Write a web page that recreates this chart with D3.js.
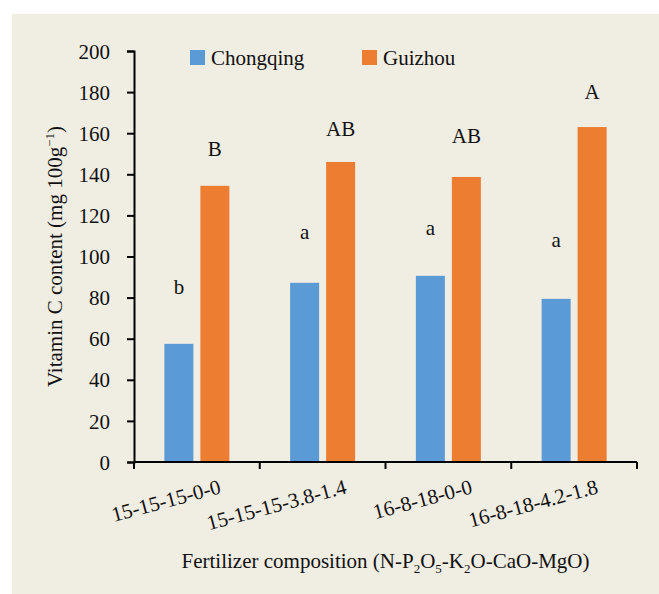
<!DOCTYPE html>
<html>
<head>
<meta charset="utf-8">
<script src="https://cdn.jsdelivr.net/npm/d3@7"></script>
<style>
  body { margin: 0; background: #fff; }
</style>
</head>
<body>
<div id="chart"></div>
<script>
// data
var categories = ["15-15-15-0-0", "15-15-15-3.8-1.4", "16-8-18-0-0", "16-8-18-4.2-1.8"];
var seriesNames = ["Chongqing", "Guizhou"];
var chongqing = [57.5, 87.2, 90.6, 79.4];
var guizhou = [134.4, 146.0, 138.7, 163.0];
// significance letters and the height (in mg) where they sit
var chongqingLetters = ["b", "a", "a", "a"];
var chongqingLetterAt = [81.8, 108.5, 110.4, 104.6];
var guizhouLetters = ["B", "AB", "AB", "A"];
var guizhouLetterAt = [148.9, 158.7, 155.3, 176.7];
var yTicks = [0, 20, 40, 60, 80, 100, 120, 140, 160, 180, 200];

var colors = ["#5B9BD5", "#ED7D31"];
var serif = "Liberation Serif";
var fs = 21;

var W = 659, H = 594;
var margin = { top: 51, right: 22, bottom: 132, left: 134 };
var width = W - margin.left - margin.right,
  height = H - margin.top - margin.bottom;

var svgRoot = d3.select("#chart").append("svg")
  .attr("width", W)
  .attr("height", H)
  .attr("font-family", serif);

// panel background
svgRoot.append("rect")
  .attr("x", 12).attr("y", 14)
  .attr("width", W - 12).attr("height", H - 14)
  .attr("fill", "#F0EDE3");

var svg = svgRoot.append("g")
  .attr("transform", "translate(" + margin.left + "," + margin.top + ")");

// scales
var x = d3.scaleBand().domain(categories).range([0, width]).paddingInner(0).paddingOuter(0);
var y = d3.scaleLinear().domain([0, 200]).range([height, 0]);
var barW = 29, gap = 7;
var xs = d3.scaleBand().domain(seriesNames)
  .range([0, barW * 2 + gap]).paddingInner(gap / (barW + gap));

var rows = categories.map(function (c, i) {
  return {
    cat: c,
    vals: [
      { s: seriesNames[0], v: chongqing[i], lab: chongqingLetters[i], at: chongqingLetterAt[i] },
      { s: seriesNames[1], v: guizhou[i], lab: guizhouLetters[i], at: guizhouLetterAt[i] }
    ]
  };
});

// bars
var groups = svg.selectAll(".grp")
  .data(rows)
  .enter().append("g")
  .attr("class", "grp")
  .attr("transform", function (d) {
    return "translate(" + (x(d.cat) + x.bandwidth() / 2 - (barW * 2 + gap) / 2) + ",0)";
  });

groups.selectAll("rect")
  .data(function (d) { return d.vals; })
  .enter().append("rect")
  .attr("x", function (d) { return xs(d.s); })
  .attr("width", xs.bandwidth())
  .attr("y", function (d) { return y(d.v); })
  .attr("height", function (d) { return height - y(d.v); })
  .attr("fill", function (d, i) { return colors[i]; });

groups.selectAll(".lab")
  .data(function (d) { return d.vals; })
  .enter().append("text")
  .attr("class", "lab")
  .attr("x", function (d) { return xs(d.s) + xs.bandwidth() / 2; })
  .attr("y", function (d) { return y(d.at); })
  .attr("text-anchor", "middle")
  .attr("font-family", serif)
  .attr("font-size", fs)
  .attr("fill", "#111")
  .text(function (d) { return d.lab; });

// y axis
var yAxis = svg.append("g")
  .call(d3.axisLeft(y).tickValues(yTicks).tickSizeInner(7).tickSizeOuter(7).tickPadding(17));
yAxis.attr("font-family", serif).attr("font-size", fs);
yAxis.selectAll("text").attr("font-family", serif).attr("font-size", fs).attr("fill", "#111").attr("dy", "0.34em");
yAxis.selectAll("line, path").attr("stroke", "#000").attr("stroke-width", 2);

// x axis: ticks on category boundaries
var xAxis = svg.append("g")
  .attr("transform", "translate(0," + height + ")");
xAxis.append("line")
  .attr("x1", 0).attr("x2", width)
  .attr("stroke", "#000").attr("stroke-width", 2);
var bounds = categories.map(function (c) { return x(c); }).concat([width]);
xAxis.selectAll(".bt")
  .data(bounds)
  .enter().append("line")
  .attr("x1", function (d) { return d; })
  .attr("x2", function (d) { return d; })
  .attr("y1", 0).attr("y2", 7)
  .attr("stroke", "#000").attr("stroke-width", 2);
xAxis.selectAll(".xl")
  .data(categories)
  .enter().append("text")
  .attr("text-anchor", "end")
  .attr("transform", function (d) {
    return "translate(" + (x(d) + x.bandwidth() / 2 + 25) + ",31) rotate(-15)";
  })
  .attr("font-family", serif)
  .attr("font-size", fs)
  .attr("fill", "#111")
  .text(function (d) { return d; });

// axis titles
var xt = svgRoot.append("text")
  .attr("x", margin.left + width / 2)
  .attr("y", 568)
  .attr("text-anchor", "middle")
  .attr("font-family", serif)
  .attr("font-size", fs)
  .attr("fill", "#111");
xt.append("tspan").text("Fertilizer composition (N-P");
xt.append("tspan").attr("dy", 5).attr("font-size", 13).text("2");
xt.append("tspan").attr("dy", -5).text("O");
xt.append("tspan").attr("dy", 5).attr("font-size", 13).text("5");
xt.append("tspan").attr("dy", -5).text("-K");
xt.append("tspan").attr("dy", 5).attr("font-size", 13).text("2");
xt.append("tspan").attr("dy", -5).text("O-CaO-MgO)");

var yt = svgRoot.append("text")
  .attr("transform", "translate(62," + (margin.top + height / 2) + ") rotate(-90)")
  .attr("text-anchor", "middle")
  .attr("font-family", serif)
  .attr("font-size", fs)
  .attr("fill", "#111");
yt.append("tspan").text("Vitamin C content (mg 100g");
yt.append("tspan").attr("dy", -8).attr("font-size", 13).text("\u22121");
yt.append("tspan").attr("dy", 8).text(")");

// legend
var legend = svgRoot.selectAll(".leg")
  .data(seriesNames)
  .enter().append("g")
  .attr("transform", function (d, i) { return "translate(" + [190, 362][i] + ",50)"; });
legend.append("rect")
  .attr("width", 15).attr("height", 15)
  .attr("fill", function (d, i) { return colors[i]; });
legend.append("text")
  .attr("x", 21).attr("y", 15)
  .attr("font-family", serif)
  .attr("font-size", fs)
  .attr("fill", "#111")
  .text(function (d) { return d; });
</script>
</body>
</html>
